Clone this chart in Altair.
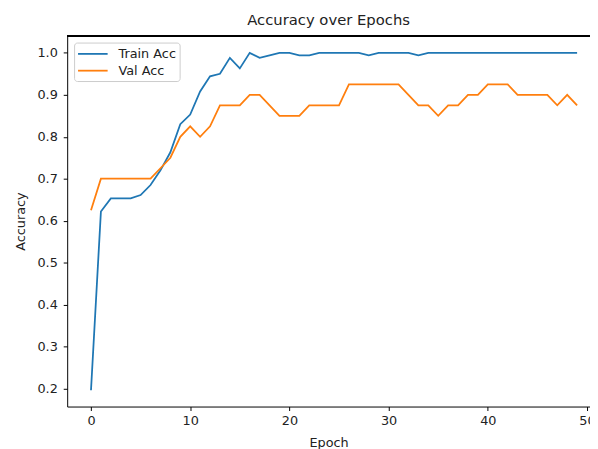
import altair as alt
import pandas as pd

epochs = list(range(50))
train_acc = [0.196, 0.622, 0.653, 0.653, 0.653, 0.661, 0.685, 0.72, 0.763, 0.83,
             0.853, 0.908, 0.944, 0.95, 0.988, 0.963, 1.0, 0.988, 0.994, 1.0,
             1.0, 0.994, 0.994, 1.0, 1.0, 1.0, 1.0, 1.0, 0.994, 1.0,
             1.0, 1.0, 1.0, 0.994, 1.0, 1.0, 1.0, 1.0, 1.0, 1.0,
             1.0, 1.0, 1.0, 1.0, 1.0, 1.0, 1.0, 1.0, 1.0, 1.0]
val_acc = [0.625, 0.7, 0.7, 0.7, 0.7, 0.7, 0.7, 0.725, 0.75, 0.8,
           0.825, 0.8, 0.825, 0.875, 0.875, 0.875, 0.9, 0.9, 0.875, 0.85,
           0.85, 0.85, 0.875, 0.875, 0.875, 0.875, 0.925, 0.925, 0.925, 0.925,
           0.925, 0.925, 0.9, 0.875, 0.875, 0.85, 0.875, 0.875, 0.9, 0.9,
           0.925, 0.925, 0.925, 0.9, 0.9, 0.9, 0.9, 0.875, 0.9, 0.875]
series = ["Train Acc", "Val Acc"]
colors = ["#1f77b4", "#ff7f0e"]
x_ticks = [0, 10, 20, 30, 40, 50]
y_ticks = [0.2, 0.3, 0.4, 0.5, 0.6, 0.7, 0.8, 0.9, 1.0]

df = pd.DataFrame({
    "Epoch": epochs * 2,
    "Accuracy": train_acc + val_acc,
    "Series": [series[0]] * len(epochs) + [series[1]] * len(epochs),
})

font = "DejaVu Sans"
W, H = 530, 376

lines = alt.Chart(df).mark_line(strokeWidth=1.8, clip=True).encode(
    x=alt.X("Epoch:Q",
            scale=alt.Scale(domain=[-2.4, 50.3], nice=False, zero=False),
            axis=alt.Axis(values=x_ticks, format="d", title="Epoch",
                          labelPadding=4, titlePadding=9)),
    y=alt.Y("Accuracy:Q",
            scale=alt.Scale(domain=[0.157, 1.041], nice=False, zero=False),
            axis=alt.Axis(values=y_ticks, format=".1f", title="Accuracy",
                          labelPadding=6, titlePadding=10)),
    color=alt.Color("Series:N",
                    scale=alt.Scale(domain=series, range=colors),
                    legend=alt.Legend(title=None, orient="top-left", offset=7,
                                      symbolType="M-1,0H3", symbolSize=225,
                                      symbolStrokeWidth=1.8,
                                      labelFontSize=13, labelFont=font,
                                      labelColor="#222", labelOffset=25,
                                      strokeColor="#cccccc", fillColor="white",
                                      cornerRadius=3, padding=3, rowPadding=1)),
)

top_frame = alt.Chart(df).mark_rule(color="black", strokeWidth=1).encode(
    x=alt.value(0), x2=alt.value(W), y=alt.value(0)
)

chart = alt.layer(lines, top_frame).properties(
    width=W, height=H,
    title=alt.TitleParams("Accuracy over Epochs", fontSize=15, font=font,
                          fontWeight="normal", color="#222", offset=7),
    autosize=alt.AutoSizeParams(type="none"),
    padding={"left": 60, "top": 25, "right": 0, "bottom": 40},
).configure_view(
    stroke=None
).configure_axis(
    grid=False, domainColor="black", tickColor="black", tickSize=4,
    labelFont=font, labelFontSize=13, labelColor="#222",
    titleFont=font, titleFontSize=13, titleFontWeight="normal", titleColor="#222"
)

chart.save("out.html", embed_options={"renderer": "svg", "actions": False})
